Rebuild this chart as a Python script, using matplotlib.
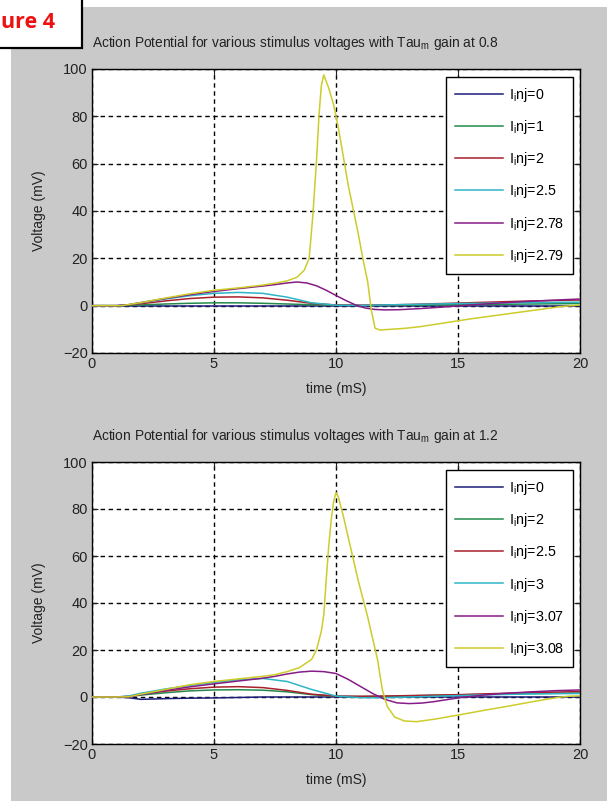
import matplotlib
matplotlib.use("Agg")
import matplotlib.pyplot as plt
from matplotlib.patches import Rectangle

plt.rcParams['font.family'] = ['Liberation Sans', 'DejaVu Sans']
plt.rcParams['mathtext.fontset'] = 'custom'
plt.rcParams['mathtext.rm'] = 'Liberation Sans'
plt.rcParams['mathtext.it'] = 'Liberation Sans'

# ---------------- data ----------------
t_small = [0, 1, 1.5, 2, 3, 4, 5, 6, 7, 8, 9, 10, 11, 12, 13, 14, 15, 16, 17, 18, 19, 20]

# Panel 1: Tau_m gain 0.8
p1_labels = ["0", "1", "2", "2.5", "2.78", "2.79"]
p1_inj0 = [0, 0, 0, 0, 0, 0, 0, 0, 0, 0, 0, 0, 0, 0, 0, 0, 0, 0, 0, 0, 0, 0]
p1_inj1 = [0, 0, 0.1, 0.3, 0.7, 1.0, 1.2, 1.2, 1.0, 0.7, 0.4, 0.2, 0.1, 0.1, 0.2, 0.3, 0.4, 0.5, 0.6, 0.7, 0.8, 0.9]
p1_inj2 = [0, 0, 0.3, 0.8, 2.0, 3.0, 3.6, 3.7, 3.3, 2.3, 1.0, 0.3, 0.2, 0.3, 0.5, 0.8, 1.1, 1.4, 1.7, 2.0, 2.2, 2.4]
p1_inj25 = [0, 0, 0.4, 1.2, 2.8, 4.2, 5.2, 5.6, 5.2, 3.6, 1.2, 0.2, 0.1, 0.3, 0.5, 0.7, 0.9, 1.0, 1.2, 1.3, 1.4, 1.5]
p1_t278 = [0, 1, 1.5, 2, 3, 4, 5, 6, 7, 7.5, 8, 8.4, 8.8, 9.2, 9.6, 10, 10.4, 10.8, 11.2, 11.6, 12,
           12.6, 13.5, 14.5, 15.5, 16.5, 17.5, 18.5, 19.5, 20]
p1_inj278 = [0, 0, 0.4, 1.3, 3.0, 4.6, 6.0, 7.2, 8.3, 8.9, 9.6, 10.0, 9.6, 8.4, 6.5, 4.3, 2.2, 0.3, -1.0, -1.6, -1.8,
             -1.7, -1.2, -0.5, 0.3, 1.0, 1.6, 2.1, 2.6, 2.8]
p1_t279 = [0, 1.2, 2, 3, 4, 5, 6, 7, 7.5, 8, 8.4, 8.7, 8.9, 9.05, 9.2, 9.3, 9.4, 9.5, 9.7, 9.9, 10.1, 10.3,
           10.5, 10.7, 10.9, 11.1, 11.3, 11.45, 11.6, 11.8, 12.2, 12.8, 13.5, 14.5, 15.5, 16.5, 17.5, 18.5, 19.2, 20]
p1_inj279 = [0, 0, 1.3, 3.2, 5.0, 6.5, 7.5, 8.7, 9.5, 10.5, 12, 15, 20, 38, 61, 80, 93, 97.5, 92, 85, 75, 63,
             51, 41, 31, 20, 10, -2, -9.5, -10.3, -10.0, -9.6, -8.8, -7.2, -5.6, -4.2, -2.8, -1.4, -0.4, 0.3]

# Panel 2: Tau_m gain 1.2
p2_labels = ["0", "2", "2.5", "3", "3.07", "3.08"]
p2_inj0 = [0, 0, -0.3, -1.0, -0.7, -0.5, -0.4, -0.2, 0, 0, 0, 0, 0, 0, 0, 0, 0, 0, 0, 0, 0, 0]
p2_inj2 = [0, 0, 0.2, 0.8, 1.8, 2.6, 3.0, 3.1, 2.9, 2.2, 1.0, 0.3, 0.2, 0.3, 0.5, 0.7, 0.9, 1.1, 1.3, 1.5, 1.6, 1.7]
p2_inj25 = [0, 0, 0.3, 1.2, 2.5, 3.5, 4.2, 4.4, 4.0, 2.8, 1.2, 0.4, 0.3, 0.4, 0.6, 0.8, 1.0, 1.3, 1.6, 1.9, 2.1, 2.3]
p2_inj3 = [0, 0, 0.4, 1.6, 3.4, 4.9, 6.2, 7.3, 7.9, 6.6, 3.2, 0.4, -0.3, -0.3, 0, 0.3, 0.6, 0.9, 1.1, 1.3, 1.4, 1.5]
p2_t307 = [0, 1, 1.5, 2, 3, 4, 5, 6, 7, 7.5, 8, 8.5, 9, 9.5, 10, 10.5, 11, 11.5, 12, 12.5, 13, 13.5, 14,
           15, 16, 17, 18, 19, 20]
p2_inj307 = [0, 0, 0, 1.0, 2.8, 4.3, 5.6, 6.8, 8.0, 8.8, 9.8, 10.6, 11.0, 10.8, 10.0, 7.5, 4.5, 1.5, -1.0, -2.5,
             -2.8, -2.6, -2.0, -0.4, 0.8, 1.6, 2.2, 2.7, 3.0]
p2_t308 = [0, 1, 1.5, 2, 3, 4, 5, 6, 7, 7.5, 8, 8.5, 9, 9.2, 9.4, 9.5, 9.6, 9.7, 9.8, 9.9, 10.0, 10.1, 10.3,
           10.5, 10.7, 10.9, 11.1, 11.3, 11.5, 11.7, 11.9, 12.1, 12.4, 12.8, 13.3, 14, 15, 16, 17, 18, 19, 19.5, 20]
p2_inj308 = [0, 0, 0.1, 1.2, 3.2, 5.2, 6.6, 7.7, 8.8, 9.5, 10.8, 12.5, 16, 20, 28, 35, 50, 64, 75, 83, 87, 85, 77,
             68, 59, 50, 42, 34, 25, 16, 3, -4, -8.5, -10.2, -10.5, -9.5, -7.7, -5.8, -4.0, -2.1, -0.3, 0.3, 0.5]

gains = ["0.8", "1.2"]
colors = ['#1c1c78', '#238a4c', '#a8202c', '#2cb6c6', '#861c86', '#cccc2a']

panels = [
    (p1_labels, [(t_small, p1_inj0), (t_small, p1_inj1), (t_small, p1_inj2), (t_small, p1_inj25),
                 (p1_t278, p1_inj278), (p1_t279, p1_inj279)]),
    (p2_labels, [(t_small, p2_inj0), (t_small, p2_inj2), (t_small, p2_inj25), (t_small, p2_inj3),
                 (p2_t307, p2_inj307), (p2_t308, p2_inj308)]),
]

# ---------------- figure ----------------
W, H = 613, 801
fig = plt.figure(figsize=(W / 100, H / 100), dpi=100, facecolor='white')

def fx(px):
    return px / W

def fy(py):
    return 1 - py / H

# grey figure background
fig.add_artist(Rectangle((fx(11), 0), fx(607) - fx(11), fy(7), transform=fig.transFigure,
                         facecolor='#c9c9c9', edgecolor='none', zorder=-5))

axes_pos = [(92, 69, 580, 353), (92, 462, 580, 744)]
for i, ((labels, series), (x0, y0, x1, y1)) in enumerate(zip(panels, axes_pos)):
    ax = fig.add_axes([fx(x0), fy(y1), fx(x1) - fx(x0), (y1 - y0) / H])
    ax.set_facecolor('white')
    for (t, v), lab, c in zip(series, labels, colors):
        ax.plot(t, v, color=c, lw=1.1, label='I$_\\mathregular{i}$nj=' + lab, zorder=3)
    ax.set_xlim(0, 20)
    ax.set_ylim(-20, 100)
    ax.set_xticks([0, 5, 10, 15, 20])
    ax.set_yticks([-20, 0, 20, 40, 60, 80, 100])
    ax.grid(True, color='black', linestyle=(0, (3.2, 2.6)), linewidth=1.0, zorder=1)
    ax.set_axisbelow(True)
    for s in ax.spines.values():
        s.set_color('black')
        s.set_linewidth(1.0)
    ax.tick_params(direction='in', length=4, width=0.8, labelsize=10.5, colors='#222222',
                   top=True, right=True, pad=3)
    ax.set_xlabel('time (mS)', fontsize=10, labelpad=8, color='#222222')
    ax.set_ylabel('Voltage (mV)', fontsize=10, labelpad=12, color='#222222')
    ax.set_title('Action Potential for various stimulus voltages with Tau$_\\mathregular{m}$ gain at ' + gains[i],
                 fontsize=9.9, pad=16, color='#222222', loc='left')
    leg = ax.legend(loc='upper right', bbox_to_anchor=((573 - x0) / (x1 - x0), (y1 - (y0 + 8)) / (y1 - y0)),
                    borderaxespad=0, fontsize=10.3, frameon=True, fancybox=False, shadow=False,
                    handlelength=3.4, handletextpad=0.4, labelspacing=1.0, borderpad=0.6,
                    framealpha=1, edgecolor='black')
    leg.get_frame().set_linewidth(1.0)
    leg.set_zorder(10)

# "Figure 4" label box, cropped at the left edge as in the source (only "ure 4" visible)
fig.add_artist(Rectangle((fx(-10), fy(48)), fx(82) - fx(-10), fy(0) - fy(48) + 0.01, transform=fig.transFigure,
                         facecolor='white', edgecolor='black', linewidth=1.6, zorder=20))
fig.text(fx(1), fy(23), 'ure 4', ha='left', va='center', color='#ee1111', fontsize=15.5,
         fontweight='bold', family=['Open Sans', 'DejaVu Sans'], zorder=21)

fig.savefig('out.png', dpi=100, facecolor='white')
